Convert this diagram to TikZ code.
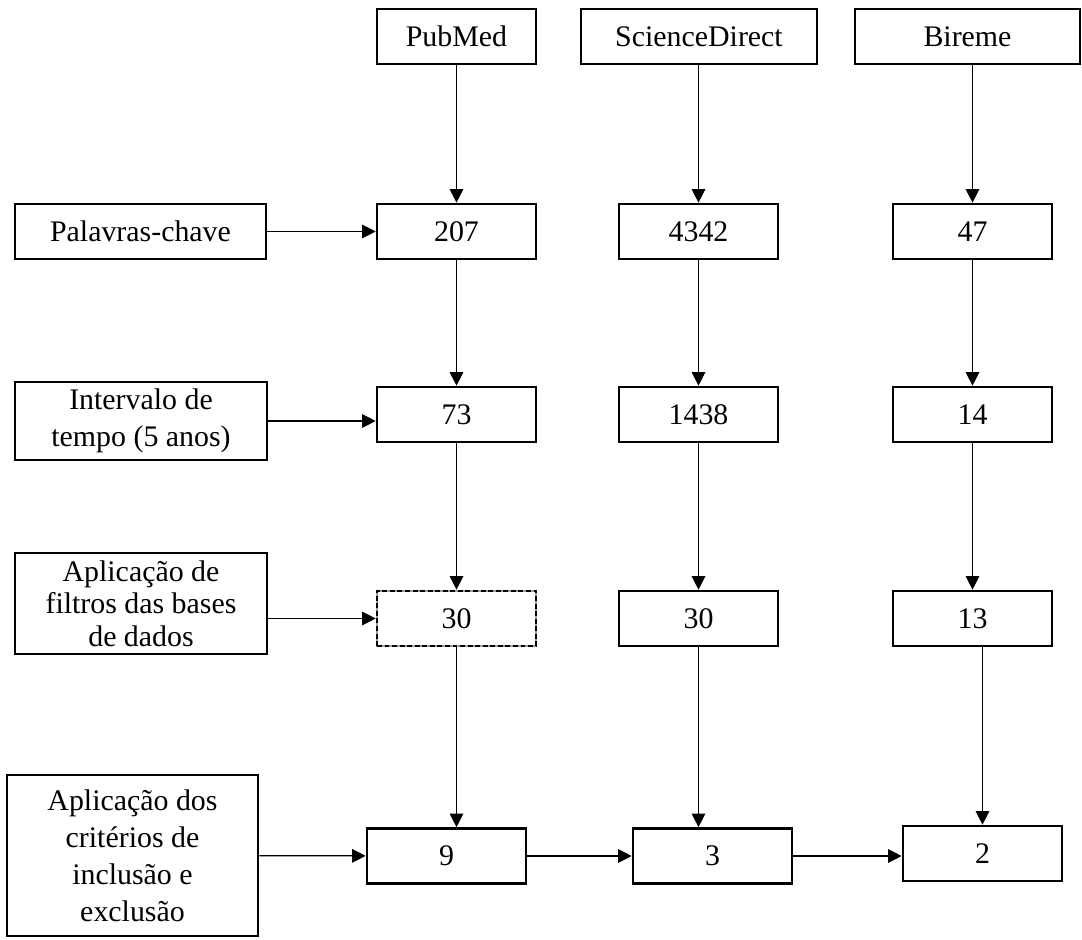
\documentclass[tikz,border=0pt]{standalone}
\usepackage{fontspec}
\setmainfont{Liberation Serif}
\usetikzlibrary{arrows.meta}

\begin{document}
\begin{tikzpicture}[
    caixa/.style={draw, line width=1.5pt, inner sep=0pt, align=center,
      minimum height=1.1cm, font=\fontsize{17}{21}\selectfont},
    num/.style={caixa, minimum width=3.18cm},
    seta/.style={line width=0.7pt, -{Triangle[length=0.27cm,width=0.27cm]}}
  ]
    \useasboundingbox (0,0) rectangle (21.64,18.78);

    % bases de dados
    \node[caixa, minimum width=3.18cm] (pubmed) at (9.13,18.05) {PubMed};
    \node[caixa, minimum width=4.72cm] (sdirect) at (13.98,18.05) {ScienceDirect};
    \node[caixa, minimum width=4.5cm] (bireme) at (19.35,18.05) {Bireme};

    % etapas
    \node[caixa, minimum width=5.02cm] (chave) at (2.81,14.15) {Palavras-chave};
    \node[caixa, minimum width=5.04cm, minimum height=1.56cm] (tempo) at (2.82,10.36)
      {Intervalo de\\tempo (5 anos)};
    \node[caixa, minimum width=5.04cm, minimum height=2.02cm,
      font=\fontsize{17}{18.5}\selectfont] (filtros) at (2.82,6.71)
      {Aplicação de\\filtros das bases\\de dados};
    \node[caixa, minimum width=5.02cm, minimum height=3.22cm] (criterios) at (2.65,1.67)
      {Aplicação dos\\critérios de\\inclusão e\\exclusão};

    % resultados
    \node[num] (p1) at (9.13,14.15) {207};
    \node[num] (s1) at (13.97,14.15) {4342};
    \node[num] (b1) at (19.45,14.15) {47};
    \node[num] (p2) at (9.13,10.49) {73};
    \node[num] (s2) at (13.97,10.49) {1438};
    \node[num] (b2) at (19.45,10.49) {14};
    \node[num, draw=gray!75,
      postaction={draw=black, line width=0.8pt, dash pattern=on 2.8pt off 1.5pt}]
      (p3) at (9.13,6.41) {30};
    \node[num] (s3) at (13.97,6.41) {30};
    \node[num] (b3) at (19.45,6.41) {13};
    \node[num] (p4) at (8.93,1.66) {9};
    \node[num] (s4) at (14.25,1.66) {3};
    \node[num] (b4) at (19.65,1.71) {2};

    \draw[seta] (pubmed) -- (p1);
    \draw[seta] (s1.north |- sdirect.south) -- (s1.north);
    \draw[seta] (b1.north |- bireme.south) -- (b1.north);
    \draw[seta] (p1) -- (p2);
    \draw[seta] (s1) -- (s2);
    \draw[seta] (b1) -- (b2);
    \draw[seta] (p2) -- (p3);
    \draw[seta] (s2) -- (s3);
    \draw[seta] (b2) -- (b3);
    \draw[seta] (p3.south) -- (p3.south |- p4.north);
    \draw[seta] (s3.south) -- (s3.south |- s4.north);
    \draw[seta] (b4.north |- b3.south) -- (b4.north);

    \draw[seta] (chave) -- (p1);
    \draw[seta] (tempo.east) -- (tempo.east -| p2.west);
    \draw[seta] (filtros.east |- p3) -- (p3.west);
    \draw[seta] (criterios) -- (p4);
    \draw[seta] (p4) -- (s4);
    \draw[seta] (s4.east) -- (s4.east -| b4.west);
\end{tikzpicture}
\end{document}
